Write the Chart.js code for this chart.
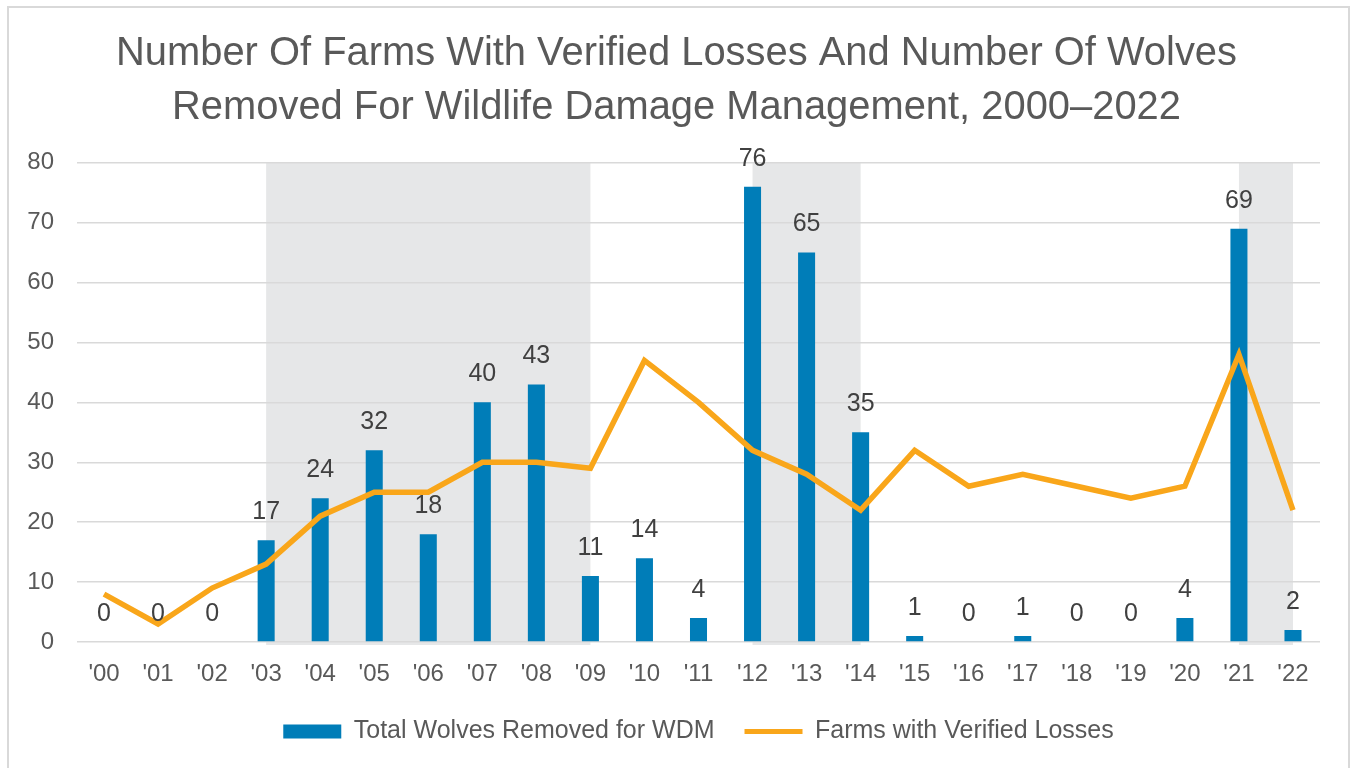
<!DOCTYPE html>
<html>
<head>
<meta charset="utf-8">
<script src="https://cdn.jsdelivr.net/npm/chart.js@4/dist/chart.umd.min.js"></script>
<style>
  html, body { margin: 0; padding: 0; background: #fff; overflow: hidden; }
  #frame { position: absolute; left: 7px; top: 6px; width: 1343px; height: 800px; border: 2px solid #d9d9d9; box-sizing: border-box; }
  #wrap { position: absolute; left: 0; top: 0; width: 1353px; height: 768px; }
</style>
</head>
<body>
<div id="frame"></div>
<div id="wrap"><canvas id="wolfChart"></canvas></div>
<script>
// chart data
const years = ["'00", "'01", "'02", "'03", "'04", "'05", "'06", "'07", "'08", "'09", "'10", "'11",
               "'12", "'13", "'14", "'15", "'16", "'17", "'18", "'19", "'20", "'21", "'22"];
const wolvesRemoved = [0, 0, 0, 17, 24, 32, 18, 40, 43, 11, 14, 4, 76, 65, 35, 1, 0, 1, 0, 0, 4, 69, 2];
const farmsWithLosses = [8, 3, 9, 13, 21, 25, 25, 30, 30, 29, 47, 40, 32, 28, 22, 32, 26, 28, 26, 24, 26, 48, 22];
const yTicks = [0, 10, 20, 30, 40, 50, 60, 70, 80];
// shaded periods (first year, last year)
const shadedPeriods = [["'03", "'09"], ["'12", "'14"], ["'21", "'22"]];

const textGrey = '#595959';
const fontFamily = "'Liberation Sans', Arial, sans-serif";

// grey background bands behind the grid
const shadePlugin = {
    id: 'shadeBands',
    beforeDraw(chart) {
        const ctx = chart.ctx;
        const x = chart.scales.x;
        const area = chart.chartArea;
        ctx.save();
        ctx.fillStyle = '#e6e7e8';
        shadedPeriods.forEach(p => {
            const x0 = x.getPixelForValue(years.indexOf(p[0]));
            const x1 = x.getPixelForValue(years.indexOf(p[1]));
            ctx.fillRect(x0, area.top, x1 - x0, area.bottom - area.top + 3);
        });
        ctx.restore();
    }
};

// value labels above the bars
const barLabelPlugin = {
    id: 'barLabels',
    afterDatasetsDraw(chart) {
        const ctx = chart.ctx;
        const meta = chart.getDatasetMeta(0);
        ctx.save();
        ctx.font = '25px ' + fontFamily;
        ctx.fillStyle = '#404040';
        ctx.textAlign = 'center';
        ctx.textBaseline = 'middle';
        meta.data.forEach((bar, i) => {
            ctx.fillText(String(wolvesRemoved[i]), bar.x, bar.y - 28);
        });
        ctx.restore();
    }
};

const ctx = document.getElementById('wolfChart');
new Chart(ctx, {
    data: {
        labels: years,
        datasets: [{
            type: 'bar',
            label: 'Total Wolves Removed for WDM',
            data: wolvesRemoved,
            backgroundColor: '#007db8',
            borderWidth: 0,
            categoryPercentage: 1,
            barPercentage: 0.315,
            order: 2
        }, {
            type: 'line',
            label: 'Farms with Verified Losses',
            data: farmsWithLosses,
            borderColor: '#f9a61a',
            backgroundColor: '#f9a61a',
            borderWidth: 5.5,
            pointRadius: 0,
            tension: 0,
            order: 1
        }]
    },
    options: {
        responsive: true,
        maintainAspectRatio: false,
        animation: false,
        layout: {
            padding: { left: 0, right: 0, top: 0, bottom: 14 }
        },
        plugins: {
            title: {
                display: true,
                text: ['Number Of Farms With Verified Losses And Number Of Wolves',
                       'Removed For Wildlife Damage Management, 2000\u20132022'],
                color: textGrey,
                font: { family: fontFamily, size: 39.9, weight: 'normal', lineHeight: 1.35 },
                padding: { top: 27, bottom: 28 }
            },
            legend: {
                position: 'bottom',
                fullSize: false,
                labels: {
                    color: textGrey,
                    font: { family: fontFamily, size: 25 },
                    usePointStyle: true,
                    pointStyleWidth: 58,
                    boxHeight: 14,
                    padding: 30,
                    generateLabels(chart) {
                        const items = Chart.defaults.plugins.legend.labels.generateLabels(chart);
                        items.sort((a, b) => a.datasetIndex - b.datasetIndex);
                        items.forEach(item => {
                            if (item.datasetIndex === 0) {
                                item.pointStyle = 'rect';
                                item.lineWidth = 0;
                            } else {
                                item.pointStyle = 'line';
                                item.lineWidth = 5;
                            }
                        });
                        return items;
                    }
                }
            },
            tooltip: { enabled: false }
        },
        scales: {
            x: {
                afterFit(scale) { scale.height = 47; },
                grid: { display: false, drawTicks: false },
                border: { display: false },
                ticks: {
                    color: textGrey,
                    font: { family: fontFamily, size: 24 },
                    padding: 18,
                    maxRotation: 0,
                    autoSkip: false
                }
            },
            y: {
                min: 0,
                max: 80,
                afterFit(scale) { scale.width = 77; },
                afterBuildTicks(scale) { scale.ticks = yTicks.map(v => ({ value: v })); },
                grid: { color: '#d9d9d9', lineWidth: 1.5, drawTicks: false },
                border: { display: false },
                ticks: {
                    color: textGrey,
                    font: { family: fontFamily, size: 24 },
                    padding: 23
                }
            },
            // empty right axis keeps the plot edge while the title stays centred on the page
            spacer: {
                position: 'right',
                min: 0,
                max: 80,
                afterFit(scale) { scale.width = 33; },
                grid: { display: false, drawTicks: false },
                border: { display: false },
                ticks: { display: false }
            }
        }
    },
    plugins: [shadePlugin, barLabelPlugin]
});
</script>
</body>
</html>
